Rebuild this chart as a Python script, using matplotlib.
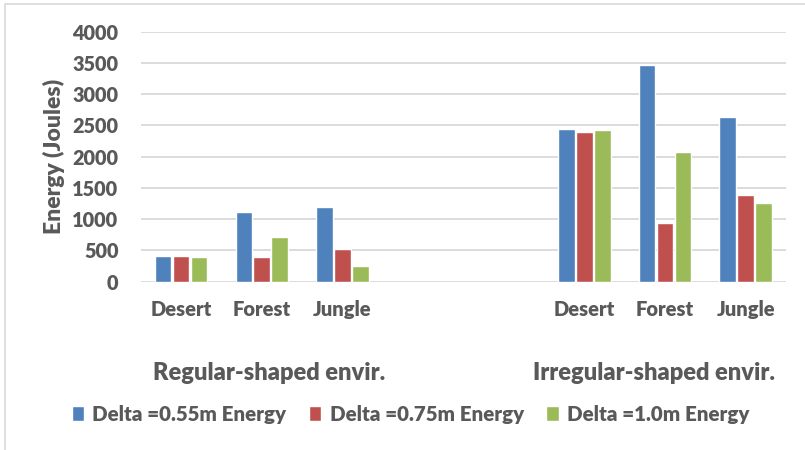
import numpy as np
import matplotlib.pyplot as plt
from matplotlib.patches import Rectangle

# energy per environment, two shape groups with a gap between them
categories = ["Desert", "Forest", "Jungle", "", "", "Desert", "Forest", "Jungle"]
series_names = ["Delta =0.55m Energy", "Delta =0.75m Energy", "Delta =1.0m Energy"]
delta_055 = [410, 1120, 1200, np.nan, np.nan, 2450, 3460, 2640]
delta_075 = [410, 390, 520, np.nan, np.nan, 2390, 940, 1380]
delta_100 = [400, 720, 250, np.nan, np.nan, 2430, 2070, 1260]
group_names = ["Regular-shaped envir.", "Irregular-shaped envir."]

colors = ["#4F81BD", "#C0504D", "#9BBB59"]
text_color = "#595959"
W = "heavy"
plt.rcParams["font.family"] = ["Lato", "DejaVu Sans"]
plt.rcParams["font.weight"] = W

fig = plt.figure(figsize=(8.05, 4.5), dpi=100)
ax = fig.add_axes([0.1748, 0.374, 0.8016, 0.5556])

x = np.arange(len(categories))
step = 0.222
for i, (vals, name) in enumerate(zip([delta_055, delta_075, delta_100], series_names)):
    ax.bar(x + (i - 1) * step, vals, width=0.205, color=colors[i],
           edgecolor="white", linewidth=1.0, label=name, zorder=3)

ax.set_xlim(-0.5, len(categories) - 0.5)
ax.set_ylim(0, 4000)
ax.set_yticks(range(0, 4001, 500))
ax.set_xticks(x)
ax.set_xticklabels(categories)
ax.tick_params(axis="x", length=0, pad=13, labelsize=14.5, labelcolor=text_color)
ax.tick_params(axis="y", length=0, pad=16, labelsize=14.3, labelcolor=text_color)
for lab in ax.get_xticklabels() + ax.get_yticklabels():
    lab.set_fontweight(W)

ax.grid(axis="y", color="#D9D9D9", linewidth=1.3, zorder=0)
for s in ax.spines.values():
    s.set_visible(False)
ax.set_ylabel("Energy (Joules)", fontsize=16.5, color=text_color, fontweight=W)
ax.yaxis.set_label_coords(-0.117, 0.5)

# group labels under the categories
fig.text(269 / 805, 1 - 373 / 450, group_names[0], ha="center", va="center",
         fontsize=17, color=text_color, fontweight=W)
fig.text(654 / 805, 1 - 373 / 450, group_names[1], ha="center", va="center",
         fontsize=17, color=text_color, fontweight=W)

leg = fig.legend(loc="center", bbox_to_anchor=(0.51, 1 - 414 / 450), ncol=3,
                 frameon=False, fontsize=14.8, handlelength=0.6, handleheight=0.7,
                 handletextpad=0.4, columnspacing=1.1)
for t in leg.get_texts():
    t.set_color(text_color)
    t.set_fontweight(W)

# chart border
fig.patches.append(Rectangle((5 / 805, -0.1), 1.2, 1 - 4 / 450 + 0.1,
                             transform=fig.transFigure, fill=False,
                             edgecolor="#D9D9D9", linewidth=1.2))

fig.savefig("out.png", dpi=100)
